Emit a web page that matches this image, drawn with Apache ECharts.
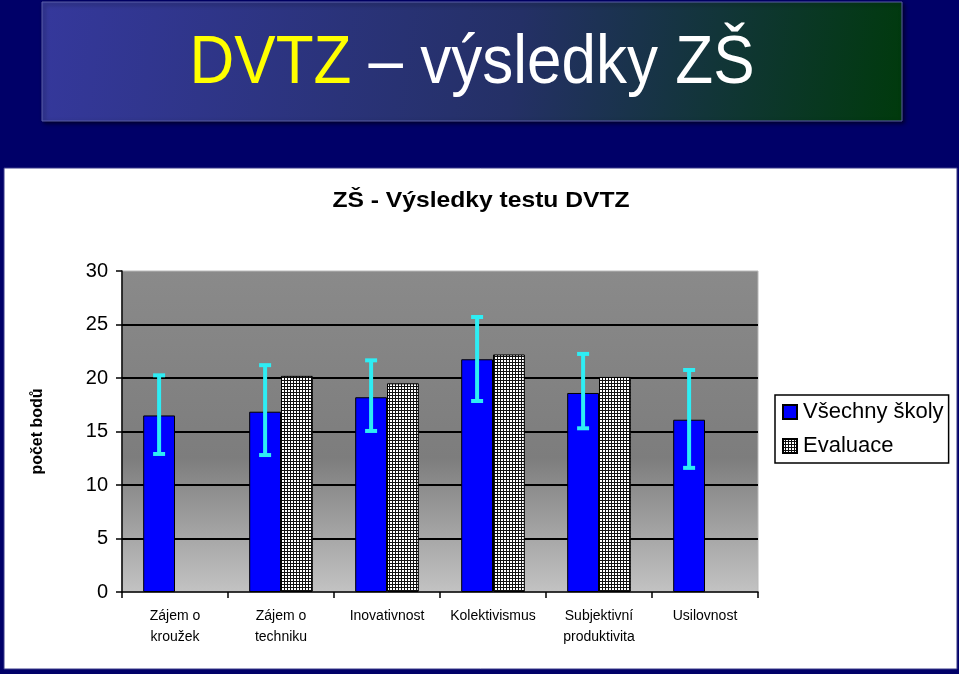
<!DOCTYPE html>
<html><head><meta charset="utf-8">
<script src="https://cdn.jsdelivr.net/npm/echarts@6/dist/echarts.min.js"></script>
<style>html,body{margin:0;padding:0;background:#000068;}#c{width:959px;height:674px;}</style>
</head><body><div id="c"></div>
<script>
const categories = ['Zájem o\nkroužek', 'Zájem o\ntechniku', 'Inovativnost', 'Kolektivismus', 'Subjektivní\nproduktivita', 'Usilovnost'];
const vsechnySkoly = [16.5, 16.85, 18.2, 21.75, 18.6, 16.1];
const evaluace = [null, 20.2, 19.5, 22.2, 20.1, null];
const errLow = [12.9, 12.8, 15.05, 17.85, 15.3, 11.6];
const errHigh = [20.25, 21.2, 21.65, 25.7, 22.25, 20.75];
const yTicks = [0, 5, 10, 15, 20, 25, 30];

const FONT = '"Liberation Sans", Arial, sans-serif';
const GAP = 0.40;

function makePattern() {
  const c = document.createElement('canvas');
  c.width = 3; c.height = 3;
  const g = c.getContext('2d');
  g.fillStyle = '#ffffff'; g.fillRect(0, 0, 3, 3);
  g.fillStyle = '#111111'; g.fillRect(0, 2, 3, 1); g.fillRect(2, 0, 1, 3);
  return c;
}
const pattern = { image: makePattern(), repeat: 'repeat' };

const chart = echarts.init(document.getElementById('c'), null, { renderer: 'canvas' });
const errData = categories.map((c, i) => [i, errLow[i], errHigh[i]]);

chart.setOption({
  backgroundColor: '#000068',
  animation: false,
  textStyle: { fontFamily: FONT },
  graphic: [
    { type: 'rect', z: -10, shape: { x: 42, y: 2, width: 860, height: 119 },
      style: { fill: new echarts.graphic.LinearGradient(0, 0, 1, 1, [
        { offset: 0, color: '#35389c' }, { offset: 0.55, color: '#243066' }, { offset: 1, color: '#003a0c' }]),
        stroke: '#5a5fa8', lineWidth: 1, shadowBlur: 4, shadowColor: 'rgba(0,0,0,0.6)', shadowOffsetX: 2, shadowOffsetY: 2 } },
    { type: 'text', z: 10, x: 472, y: 64, scaleY: 1.12,
      style: { text: '{y|DVTZ}{w| – výsledky ZŠ}', align: 'center', verticalAlign: 'middle',
        rich: { y: { fill: '#ffff00', fontSize: 62, fontFamily: FONT }, w: { fill: '#ffffff', fontSize: 62, fontFamily: FONT } } } },
    { type: 'rect', z: -10, shape: { x: 4, y: 168, width: 953, height: 501 },
      style: { fill: '#ffffff', stroke: '#3a3a8a', lineWidth: 1 } },
    { type: 'text', z: 10, x: 481, y: 201, scaleX: 1.12,
      style: { text: 'ZŠ - Výsledky testu DVTZ', align: 'center', verticalAlign: 'middle',
        fill: '#000000', fontSize: 22, fontWeight: 'bold', fontFamily: FONT } }
  ],
  legend: {
    orient: 'vertical', left: 775, top: 395,
    backgroundColor: '#ffffff', borderColor: '#000000', borderWidth: 1.5,
    padding: [6, 5, 6, 7], itemGap: 12, itemWidth: 14, itemHeight: 14,
    icon: 'rect',
    textStyle: { fontSize: 22, color: '#000000', fontFamily: FONT, padding: [0, 0, 0, 1] },
    data: ['Všechny školy', 'Evaluace']
  },
  grid: { left: 122, right: 201, top: 271, bottom: 82, show: true,
    backgroundColor: new echarts.graphic.LinearGradient(0, 0, 0, 1, [
      { offset: 0, color: '#8a8a8a' }, { offset: 0.58, color: '#7d7d7d' }, { offset: 1, color: '#c3c3c3' }]),
    borderColor: '#b8b8b8', borderWidth: 1 },
  xAxis: {
    type: 'category', data: categories,
    axisLine: { lineStyle: { color: '#000000', width: 1.5 } },
    axisTick: { show: true, length: 6, lineStyle: { color: '#000000', width: 1.5 } },
    axisLabel: { interval: 0, fontSize: 14, lineHeight: 21, color: '#000000', margin: 14, fontFamily: FONT },
    splitLine: { show: false }
  },
  yAxis: {
    type: 'value', min: 0, max: 30, interval: 5,
    name: 'počet bodů', nameLocation: 'middle', nameGap: 76, nameRotate: 90,
    nameTextStyle: { fontSize: 16, fontWeight: 'bold', color: '#000000', fontFamily: FONT },
    axisLine: { show: true, lineStyle: { color: '#000000', width: 1.5 } },
    axisTick: { show: true, length: 6, lineStyle: { color: '#000000', width: 1.5 } },
    axisLabel: { fontSize: 20, color: '#000000', margin: 14, fontFamily: FONT },
    splitLine: { show: true, showMinLine: false, showMaxLine: false,
      lineStyle: { color: '#000000', width: 2, type: 'solid' } }
  },
  series: [
    { name: 'Všechny školy', type: 'bar', data: vsechnySkoly, z: 2,
      barGap: '0%', barCategoryGap: (GAP * 100) + '%',
      itemStyle: { color: '#0000ff', borderColor: '#000000', borderWidth: 1 } },
    { name: 'Evaluace', type: 'bar', data: evaluace, z: 2,
      barGap: '0%', barCategoryGap: (GAP * 100) + '%',
      itemStyle: { color: pattern, borderColor: '#000000', borderWidth: 1 } },
    { name: 'err', type: 'custom', z: 5, silent: true, data: errData,
      encode: { x: 0, y: [1, 2] },
      renderItem: function (params, api) {
        const i = api.value(0);
        const lo = api.coord([i, api.value(1)]);
        const hi = api.coord([i, api.value(2)]);
        const band = api.size([1, 0])[0];
        const bw = band * (1 - GAP) / 2;
        const cx = lo[0] - bw / 2;
        const fill = '#2eedf4';
        return { type: 'group', children: [
          { type: 'rect', shape: { x: cx - 2, y: hi[1], width: 4, height: lo[1] - hi[1] }, style: { fill: fill } },
          { type: 'rect', shape: { x: cx - 6, y: hi[1] - 2, width: 12, height: 4 }, style: { fill: fill } },
          { type: 'rect', shape: { x: cx - 6, y: lo[1] - 2, width: 12, height: 4 }, style: { fill: fill } }
        ] };
      } }
  ]
});
</script></body></html>
